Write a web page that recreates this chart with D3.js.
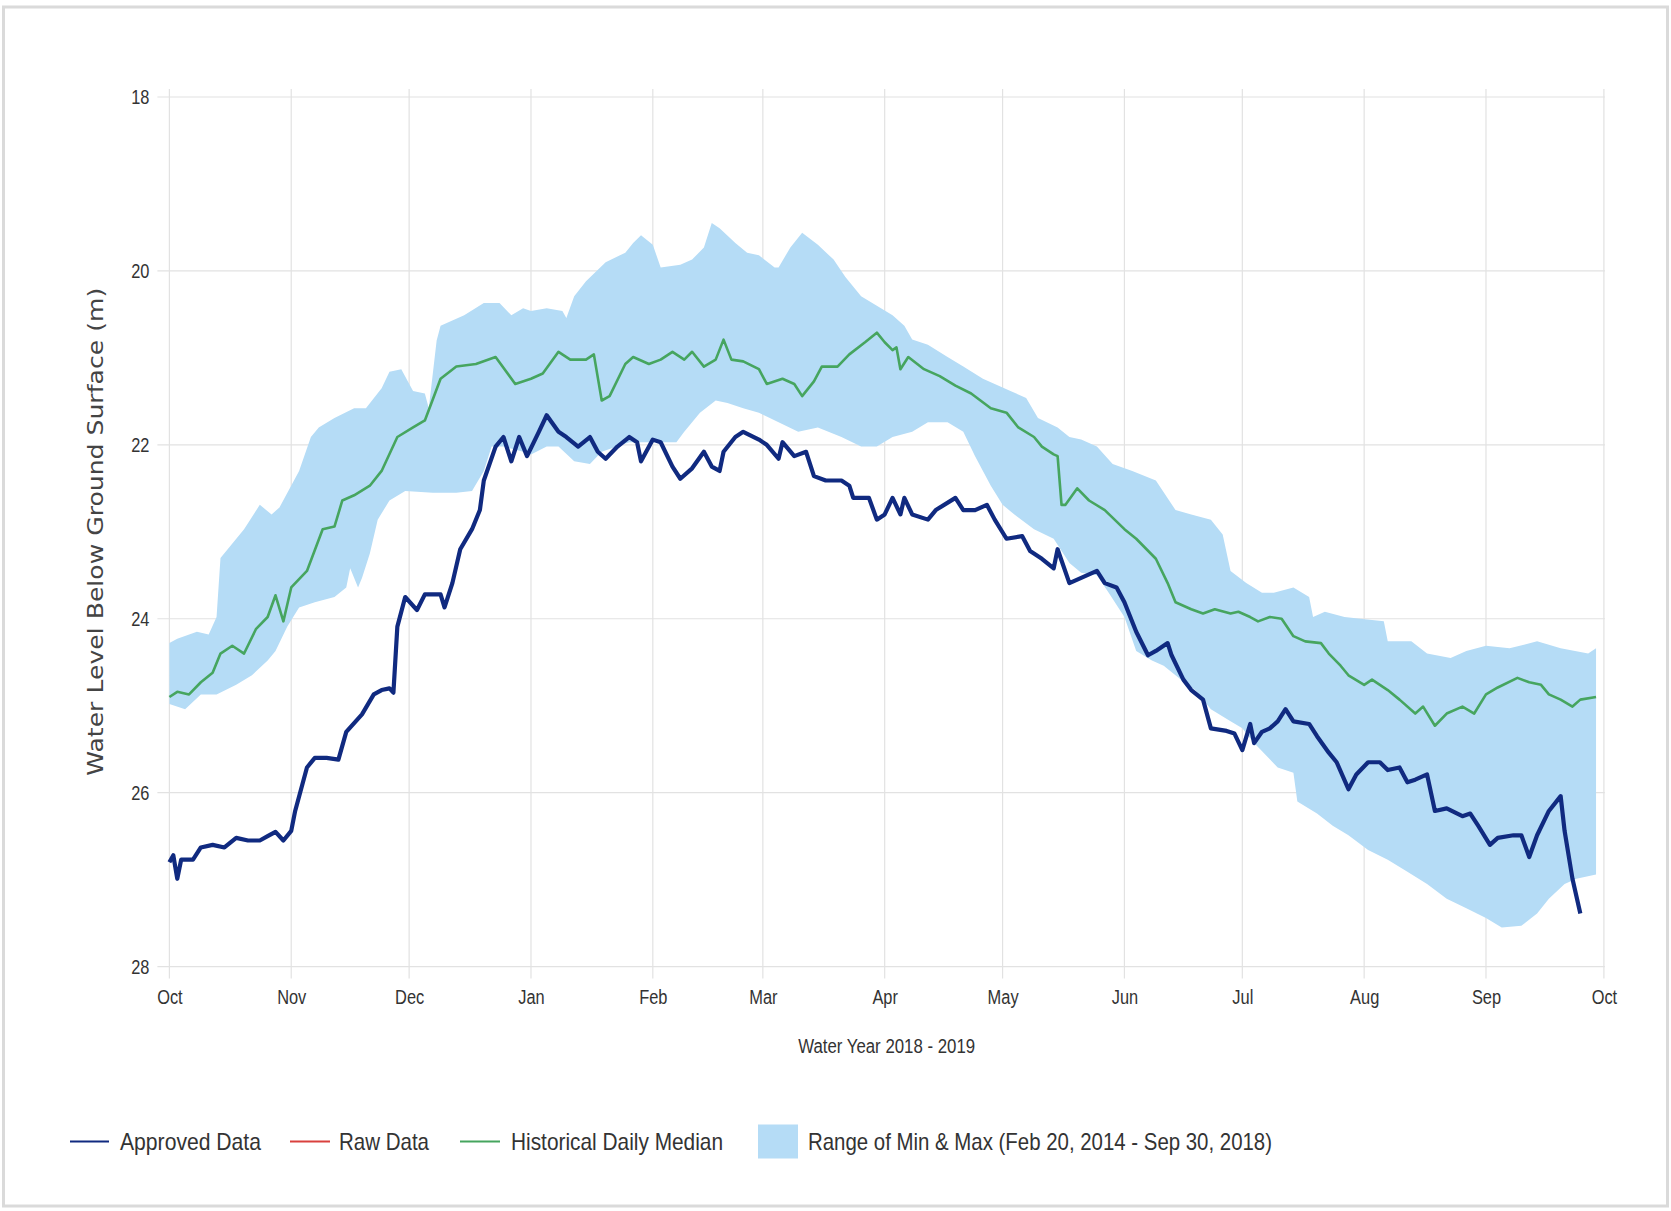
<!DOCTYPE html>
<html>
<head>
<meta charset="utf-8">
<script src="https://cdn.jsdelivr.net/npm/d3@7"></script>
<style>
  html, body { margin: 0; padding: 0; background: #fff; }
  svg { display: block; }
</style>
</head>
<body>
<svg id="chart" width="1671" height="1211"></svg>
<script>
// Water level below ground surface, water year 2018 - 2019 (metres)
const depthTicks = [18, 20, 22, 24, 26, 28];
const monthLabels = ["Oct", "Nov", "Dec", "Jan", "Feb", "Mar", "Apr", "May", "Jun", "Jul", "Aug", "Sep", "Oct"];

const approvedData = [
  ["2018-10-01",26.80],["2018-10-02",26.72],["2018-10-03",26.99],["2018-10-04",26.77],["2018-10-07",26.77],
  ["2018-10-09",26.63],["2018-10-12",26.60],["2018-10-15",26.63],["2018-10-18",26.52],["2018-10-21",26.55],
  ["2018-10-24",26.55],["2018-10-26",26.50],["2018-10-28",26.45],["2018-10-30",26.55],["2018-11-01",26.44],
  ["2018-11-02",26.21],["2018-11-05",25.71],["2018-11-07",25.60],["2018-11-10",25.60],["2018-11-13",25.62],
  ["2018-11-15",25.30],["2018-11-19",25.10],["2018-11-22",24.87],["2018-11-24",24.82],["2018-11-26",24.80],
  ["2018-11-27",24.85],["2018-11-28",24.09],["2018-11-30",23.75],["2018-12-03",23.90],["2018-12-05",23.72],
  ["2018-12-09",23.72],["2018-12-10",23.87],["2018-12-12",23.59],["2018-12-14",23.20],["2018-12-17",22.97],
  ["2018-12-19",22.75],["2018-12-20",22.41],["2018-12-23",22.02],["2018-12-25",21.91],["2018-12-27",22.19],
  ["2018-12-29",21.91],["2018-12-31",22.13],["2019-01-03",21.85],["2019-01-05",21.66],["2019-01-08",21.85],
  ["2019-01-10",21.91],["2019-01-13",22.02],["2019-01-16",21.91],["2019-01-18",22.08],["2019-01-20",22.16],
  ["2019-01-23",22.02],["2019-01-26",21.91],["2019-01-28",21.97],["2019-01-29",22.19],["2019-02-01",21.94],
  ["2019-02-03",21.97],["2019-02-06",22.25],["2019-02-08",22.39],["2019-02-11",22.27],["2019-02-14",22.08],
  ["2019-02-16",22.25],["2019-02-18",22.30],["2019-02-19",22.08],["2019-02-22",21.91],["2019-02-24",21.85],
  ["2019-02-28",21.94],["2019-03-02",22.00],["2019-03-05",22.16],["2019-03-06",21.97],["2019-03-09",22.13],
  ["2019-03-12",22.08],["2019-03-14",22.36],["2019-03-17",22.41],["2019-03-21",22.41],["2019-03-23",22.47],
  ["2019-03-24",22.61],["2019-03-28",22.61],["2019-03-30",22.86],["2019-04-01",22.80],["2019-04-03",22.61],
  ["2019-04-05",22.80],["2019-04-06",22.61],["2019-04-08",22.80],["2019-04-12",22.86],["2019-04-14",22.75],
  ["2019-04-19",22.61],["2019-04-21",22.75],["2019-04-24",22.75],["2019-04-27",22.69],["2019-04-29",22.86],
  ["2019-05-02",23.08],["2019-05-06",23.05],["2019-05-08",23.22],["2019-05-11",23.31],["2019-05-14",23.42],
  ["2019-05-15",23.20],["2019-05-18",23.59],["2019-05-21",23.53],["2019-05-25",23.45],["2019-05-27",23.59],
  ["2019-05-30",23.64],["2019-06-01",23.81],["2019-06-04",24.15],["2019-06-07",24.42],["2019-06-09",24.37],
  ["2019-06-12",24.28],["2019-06-13",24.42],["2019-06-16",24.70],["2019-06-18",24.82],["2019-06-21",24.93],
  ["2019-06-23",25.26],["2019-06-27",25.29],["2019-06-29",25.32],["2019-07-01",25.51],["2019-07-03",25.21],
  ["2019-07-04",25.43],["2019-07-06",25.30],["2019-07-08",25.26],["2019-07-10",25.18],["2019-07-12",25.04],
  ["2019-07-14",25.18],["2019-07-18",25.21],["2019-07-20",25.35],["2019-07-23",25.54],["2019-07-25",25.65],
  ["2019-07-28",25.96],["2019-07-30",25.79],["2019-08-02",25.65],["2019-08-05",25.65],["2019-08-07",25.74],
  ["2019-08-10",25.71],["2019-08-12",25.88],["2019-08-14",25.85],["2019-08-17",25.79],["2019-08-19",26.21],
  ["2019-08-22",26.18],["2019-08-26",26.27],["2019-08-28",26.24],["2019-08-30",26.38],["2019-09-02",26.60],
  ["2019-09-04",26.52],["2019-09-08",26.49],["2019-09-10",26.49],["2019-09-12",26.74],["2019-09-14",26.49],
  ["2019-09-17",26.21],["2019-09-20",26.04],["2019-09-21",26.44],["2019-09-23",26.99],["2019-09-25",27.39]
];

// No raw (unapproved) readings in this period
const rawData = [];

const medianData = [
  ["2018-10-01",24.90],["2018-10-03",24.84],["2018-10-06",24.87],["2018-10-09",24.73],["2018-10-12",24.62],
  ["2018-10-14",24.40],["2018-10-17",24.31],["2018-10-20",24.40],["2018-10-23",24.12],["2018-10-26",23.98],
  ["2018-10-28",23.73],["2018-10-30",24.03],["2018-11-01",23.64],["2018-11-05",23.45],["2018-11-09",22.97],
  ["2018-11-12",22.94],["2018-11-14",22.64],["2018-11-17",22.58],["2018-11-21",22.47],["2018-11-24",22.30],
  ["2018-11-28",21.91],["2018-12-02",21.80],["2018-12-05",21.72],["2018-12-09",21.24],["2018-12-13",21.10],
  ["2018-12-18",21.07],["2018-12-23",20.99],["2018-12-28",21.30],["2019-01-01",21.24],["2019-01-04",21.18],
  ["2019-01-08",20.93],["2019-01-11",21.02],["2019-01-15",21.02],["2019-01-17",20.96],["2019-01-19",21.49],
  ["2019-01-21",21.44],["2019-01-25",21.07],["2019-01-27",20.99],["2019-01-31",21.07],["2019-02-03",21.02],
  ["2019-02-06",20.93],["2019-02-09",21.02],["2019-02-11",20.93],["2019-02-14",21.10],["2019-02-17",21.02],
  ["2019-02-19",20.79],["2019-02-21",21.02],["2019-02-24",21.04],["2019-02-28",21.13],["2019-03-02",21.30],
  ["2019-03-06",21.24],["2019-03-09",21.30],["2019-03-11",21.44],["2019-03-14",21.27],["2019-03-16",21.10],
  ["2019-03-20",21.10],["2019-03-23",20.96],["2019-03-27",20.82],["2019-03-30",20.71],["2019-04-01",20.82],
  ["2019-04-03",20.91],["2019-04-04",20.88],["2019-04-05",21.13],["2019-04-07",20.99],["2019-04-11",21.13],
  ["2019-04-15",21.21],["2019-04-19",21.32],["2019-04-23",21.41],["2019-04-28",21.58],["2019-05-02",21.63],
  ["2019-05-05",21.80],["2019-05-09",21.91],["2019-05-11",22.02],["2019-05-14",22.11],["2019-05-15",22.13],
  ["2019-05-16",22.69],["2019-05-17",22.69],["2019-05-20",22.50],["2019-05-23",22.64],["2019-05-27",22.75],
  ["2019-06-01",22.97],["2019-06-04",23.08],["2019-06-09",23.31],["2019-06-12",23.59],["2019-06-14",23.81],
  ["2019-06-18",23.89],["2019-06-21",23.94],["2019-06-24",23.89],["2019-06-28",23.94],["2019-06-30",23.92],
  ["2019-07-03",23.98],["2019-07-05",24.03],["2019-07-08",23.98],["2019-07-11",24.00],["2019-07-14",24.20],
  ["2019-07-17",24.26],["2019-07-21",24.28],["2019-07-23",24.40],["2019-07-26",24.54],["2019-07-28",24.65],
  ["2019-08-01",24.76],["2019-08-03",24.70],["2019-08-07",24.82],["2019-08-10",24.93],["2019-08-14",25.09],
  ["2019-08-16",25.01],["2019-08-19",25.23],["2019-08-22",25.09],["2019-08-26",25.01],["2019-08-29",25.09],
  ["2019-09-01",24.87],["2019-09-04",24.79],["2019-09-09",24.68],["2019-09-12",24.73],["2019-09-15",24.76],
  ["2019-09-17",24.87],["2019-09-20",24.93],["2019-09-23",25.01],["2019-09-25",24.93],["2019-09-29",24.90]
];

// Shallowest level on record for each day (upper edge of the range band)
const rangeMinData = [
  ["2018-10-01",24.28],["2018-10-03",24.23],["2018-10-08",24.15],["2018-10-11",24.18],["2018-10-13",23.98],
  ["2018-10-14",23.30],["2018-10-20",22.97],["2018-10-24",22.69],["2018-10-27",22.80],["2018-10-29",22.72],
  ["2018-11-03",22.30],["2018-11-06",21.91],["2018-11-08",21.80],["2018-11-12",21.69],["2018-11-17",21.58],
  ["2018-11-20",21.58],["2018-11-24",21.35],["2018-11-26",21.16],["2018-11-29",21.13],["2018-12-02",21.38],
  ["2018-12-05",21.41],["2018-12-06",21.58],["2018-12-08",20.80],["2018-12-09",20.63],["2018-12-12",20.57],
  ["2018-12-15",20.51],["2018-12-20",20.37],["2018-12-24",20.37],["2018-12-27",20.51],["2018-12-30",20.43],
  ["2019-01-01",20.46],["2019-01-05",20.43],["2019-01-09",20.46],["2019-01-10",20.54],["2019-01-12",20.29],
  ["2019-01-15",20.12],["2019-01-20",19.90],["2019-01-25",19.79],["2019-01-27",19.68],["2019-01-29",19.59],
  ["2019-02-01",19.70],["2019-02-03",19.96],["2019-02-08",19.93],["2019-02-11",19.87],["2019-02-14",19.73],
  ["2019-02-16",19.45],["2019-02-18",19.51],["2019-02-22",19.68],["2019-02-25",19.79],["2019-02-28",19.82],
  ["2019-03-04",19.96],["2019-03-05",19.96],["2019-03-08",19.73],["2019-03-11",19.56],["2019-03-15",19.70],
  ["2019-03-19",19.87],["2019-03-22",20.07],["2019-03-26",20.29],["2019-03-30",20.40],["2019-04-03",20.51],
  ["2019-04-06",20.63],["2019-04-08",20.79],["2019-04-12",20.85],["2019-04-17",20.99],["2019-04-21",21.10],
  ["2019-04-26",21.24],["2019-04-29",21.30],["2019-05-03",21.38],["2019-05-07",21.46],["2019-05-10",21.69],
  ["2019-05-15",21.80],["2019-05-18",21.91],["2019-05-21",21.94],["2019-05-25",22.02],["2019-05-29",22.22],
  ["2019-06-03",22.30],["2019-06-09",22.41],["2019-06-14",22.75],["2019-06-18",22.80],["2019-06-23",22.86],
  ["2019-06-26",23.03],["2019-06-28",23.45],["2019-07-02",23.59],["2019-07-06",23.70],["2019-07-09",23.70],
  ["2019-07-14",23.64],["2019-07-18",23.75],["2019-07-19",23.98],["2019-07-22",23.92],["2019-07-27",23.98],
  ["2019-07-31",24.00],["2019-08-06",24.03],["2019-08-07",24.26],["2019-08-13",24.26],["2019-08-17",24.40],
  ["2019-08-23",24.45],["2019-08-27",24.37],["2019-09-01",24.31],["2019-09-07",24.34],["2019-09-14",24.26],
  ["2019-09-20",24.34],["2019-09-27",24.40],["2019-09-29",24.34]
];

// Deepest level on record for each day (lower edge of the range band)
const rangeMaxData = [
  ["2018-10-01",24.98],["2018-10-05",25.04],["2018-10-09",24.87],["2018-10-13",24.87],["2018-10-18",24.76],
  ["2018-10-22",24.65],["2018-10-26",24.48],["2018-10-28",24.37],["2018-10-31",24.09],["2018-11-03",23.87],
  ["2018-11-07",23.81],["2018-11-12",23.75],["2018-11-15",23.64],["2018-11-16",23.42],["2018-11-18",23.64],
  ["2018-11-19",23.53],["2018-11-21",23.25],["2018-11-23",22.86],["2018-11-26",22.64],["2018-11-30",22.53],
  ["2018-12-07",22.55],["2018-12-13",22.55],["2018-12-17",22.53],["2018-12-20",22.30],["2018-12-22",22.02],
  ["2018-12-25",22.02],["2018-12-30",22.08],["2019-01-01",22.11],["2019-01-05",22.02],["2019-01-08",22.02],
  ["2019-01-12",22.19],["2019-01-16",22.22],["2019-01-19",22.08],["2019-01-26",21.97],["2019-02-01",21.97],
  ["2019-02-07",21.97],["2019-02-09",21.85],["2019-02-13",21.63],["2019-02-17",21.49],["2019-02-20",21.52],
  ["2019-02-24",21.58],["2019-02-28",21.63],["2019-03-05",21.74],["2019-03-10",21.85],["2019-03-15",21.80],
  ["2019-03-21",21.91],["2019-03-26",22.02],["2019-03-30",22.02],["2019-04-03",21.91],["2019-04-08",21.85],
  ["2019-04-12",21.74],["2019-04-17",21.74],["2019-04-21",21.85],["2019-04-24",22.13],["2019-04-28",22.47],
  ["2019-05-01",22.69],["2019-05-04",22.80],["2019-05-09",22.97],["2019-05-14",23.08],["2019-05-18",23.36],
  ["2019-05-21",23.47],["2019-05-25",23.50],["2019-05-28",23.70],["2019-06-01",23.98],["2019-06-04",24.37],
  ["2019-06-08",24.48],["2019-06-11",24.54],["2019-06-14",24.65],["2019-06-17",24.76],["2019-06-19",24.82],
  ["2019-06-23",25.04],["2019-06-28",25.18],["2019-07-01",25.26],["2019-07-04",25.43],["2019-07-10",25.71],
  ["2019-07-14",25.77],["2019-07-15",26.10],["2019-07-20",26.24],["2019-07-24",26.38],["2019-07-28",26.49],
  ["2019-08-02",26.66],["2019-08-07",26.77],["2019-08-12",26.91],["2019-08-17",27.05],["2019-08-22",27.22],
  ["2019-08-27",27.33],["2019-09-01",27.44],["2019-09-05",27.55],["2019-09-10",27.53],["2019-09-14",27.39],
  ["2019-09-17",27.22],["2019-09-21",27.05],["2019-09-24",26.99],["2019-09-29",26.94]
];

const legendItems = [
  { label: "Approved Data", kind: "line", color: "#102a80" },
  { label: "Raw Data", kind: "line", color: "#d9413e" },
  { label: "Historical Daily Median", kind: "line", color: "#46a55f" },
  { label: "Range of Min & Max (Feb 20, 2014 - Sep 30, 2018)", kind: "box", color: "#b5dcf6" }
];

// ---- layout ----
const W = 1671, H = 1211;
const plot = { left: 169.4, right: 1603.9, top: 97, bottom: 966.6 };
const labelFont = "'Liberation Sans', Arial, sans-serif";
const textColor = "#333";
const gridColor = "#e2e2e2";

// condensed look: natural Arial-metric width squeezed to ~82%
function narrow(sel, size) {
  sel.attr("font-family", labelFont).attr("font-size", size)
    .each(function () {
      const w = this.getComputedTextLength();
      this.setAttribute("textLength", (w * 0.82).toFixed(1));
      this.setAttribute("lengthAdjust", "spacingAndGlyphs");
    });
}

const svg = d3.select("#chart");
const parse = d3.utcParse("%Y-%m-%d");
const toPoints = rows => rows.map(([d, v]) => ({ date: parse(d), value: v }));

const approved = toPoints(approvedData);
const raw = toPoints(rawData);
const median = toPoints(medianData);
const rangeMin = toPoints(rangeMinData);
const rangeMax = toPoints(rangeMaxData);

const x = d3.scaleUtc()
  .domain([parse("2018-10-01"), parse("2019-10-01")])
  .range([plot.left, plot.right]);

const y = d3.scaleLinear()
  .domain([d3.min(depthTicks), d3.max(depthTicks)])
  .range([plot.top, plot.bottom]);

const monthTicks = d3.utcMonth.range(parse("2018-10-01"), parse("2019-10-02"));

// outer frame
svg.append("rect")
  .attr("x", 3.5).attr("y", 7).attr("width", W - 7).attr("height", H - 12)
  .attr("fill", "#fff").attr("stroke", "#dadada").attr("stroke-width", 3);

// gridlines
const grid = svg.append("g").attr("class", "grid");
grid.selectAll("line.v").data(monthTicks).join("line")
  .attr("class", "v")
  .attr("x1", d => x(d)).attr("x2", d => x(d))
  .attr("y1", plot.top - 8).attr("y2", plot.bottom + 12)
  .attr("stroke", gridColor).attr("stroke-width", 1.2);
grid.selectAll("line.h").data(depthTicks).join("line")
  .attr("class", "h")
  .attr("x1", plot.left - 12).attr("x2", plot.right + 1)
  .attr("y1", d => y(d)).attr("y2", d => y(d))
  .attr("stroke", gridColor).attr("stroke-width", 1.2);

// min-max range band: upper edge forward, lower edge back
const edge = d3.line().x(d => x(d.date)).y(d => y(d.value));
const bandPts = rangeMin.concat(rangeMax.slice().reverse());
svg.append("path")
  .attr("d", edge(bandPts) + "Z")
  .attr("fill", legendItems[3].color)
  .attr("stroke", "none");

// historical daily median
svg.append("path")
  .datum(median)
  .attr("d", edge)
  .attr("fill", "none")
  .attr("stroke", legendItems[2].color)
  .attr("stroke-width", 2.6)
  .attr("stroke-linejoin", "round");

// raw data (empty this year)
svg.append("path")
  .datum(raw)
  .attr("d", d => d.length ? edge(d) : null)
  .attr("fill", "none")
  .attr("stroke", legendItems[1].color)
  .attr("stroke-width", 2);

// approved data
svg.append("path")
  .datum(approved)
  .attr("d", edge)
  .attr("fill", "none")
  .attr("stroke", legendItems[0].color)
  .attr("stroke-width", 4.2)
  .attr("stroke-linejoin", "round");

// axes (labels only; gridlines drawn above)
const xAxis = d3.axisBottom(x)
  .tickValues(monthTicks)
  .tickFormat((d, i) => monthLabels[i])
  .tickSize(12).tickPadding(11);
const gx = svg.append("g").attr("transform", `translate(0,${plot.bottom})`).call(xAxis);
gx.select(".domain").remove();
gx.selectAll(".tick line").remove();
gx.selectAll("text").attr("fill", textColor).call(narrow, 20);

const yAxis = d3.axisLeft(y)
  .tickValues(depthTicks)
  .tickFormat(d3.format("d"))
  .tickSize(12).tickPadding(8);
const gy = svg.append("g").attr("transform", `translate(${plot.left},0)`).call(yAxis);
gy.select(".domain").remove();
gy.selectAll(".tick line").remove();
gy.selectAll("text").attr("fill", textColor).call(narrow, 20);

// axis titles
svg.append("text")
  .attr("x", (plot.left + plot.right) / 2).attr("y", 1053)
  .attr("text-anchor", "middle")
  .attr("font-family", labelFont).attr("font-size", 20).attr("fill", textColor)
  .attr("textLength", 177).attr("lengthAdjust", "spacingAndGlyphs")
  .text("Water Year 2018 - 2019");

svg.append("text")
  .attr("transform", `translate(103,${(plot.top + plot.bottom) / 2}) rotate(-90)`)
  .attr("text-anchor", "middle")
  .attr("font-family", "'DejaVu Sans', Verdana, sans-serif").attr("font-size", 21).attr("fill", "#444")
  .attr("textLength", 488).attr("lengthAdjust", "spacingAndGlyphs")
  .text("Water Level Below Ground Surface (m)");

// legend
const legendY = 1141.5;
const legendLayout = [
  { sx: 70, ex: 109, tx: 120, tw: 141 },
  { sx: 290, ex: 330, tx: 339, tw: 90 },
  { sx: 460, ex: 500, tx: 511, tw: 212 },
  { sx: 758, ex: 798, tx: 808, tw: 464 }
];
const lg = svg.append("g").attr("class", "legend");
legendItems.forEach((item, i) => {
  const p = legendLayout[i];
  if (item.kind === "line") {
    lg.append("line")
      .attr("x1", p.sx).attr("x2", p.ex).attr("y1", legendY).attr("y2", legendY)
      .attr("stroke", item.color).attr("stroke-width", 2);
  } else {
    lg.append("rect")
      .attr("x", p.sx).attr("y", legendY - 17).attr("width", p.ex - p.sx).attr("height", 34)
      .attr("fill", item.color);
  }
  lg.append("text")
    .attr("x", p.tx).attr("y", legendY).attr("dy", "0.35em")
    .attr("font-family", labelFont).attr("font-size", 24).attr("fill", textColor)
    .attr("textLength", p.tw).attr("lengthAdjust", "spacingAndGlyphs")
    .text(item.label);
});
</script>
</body>
</html>
